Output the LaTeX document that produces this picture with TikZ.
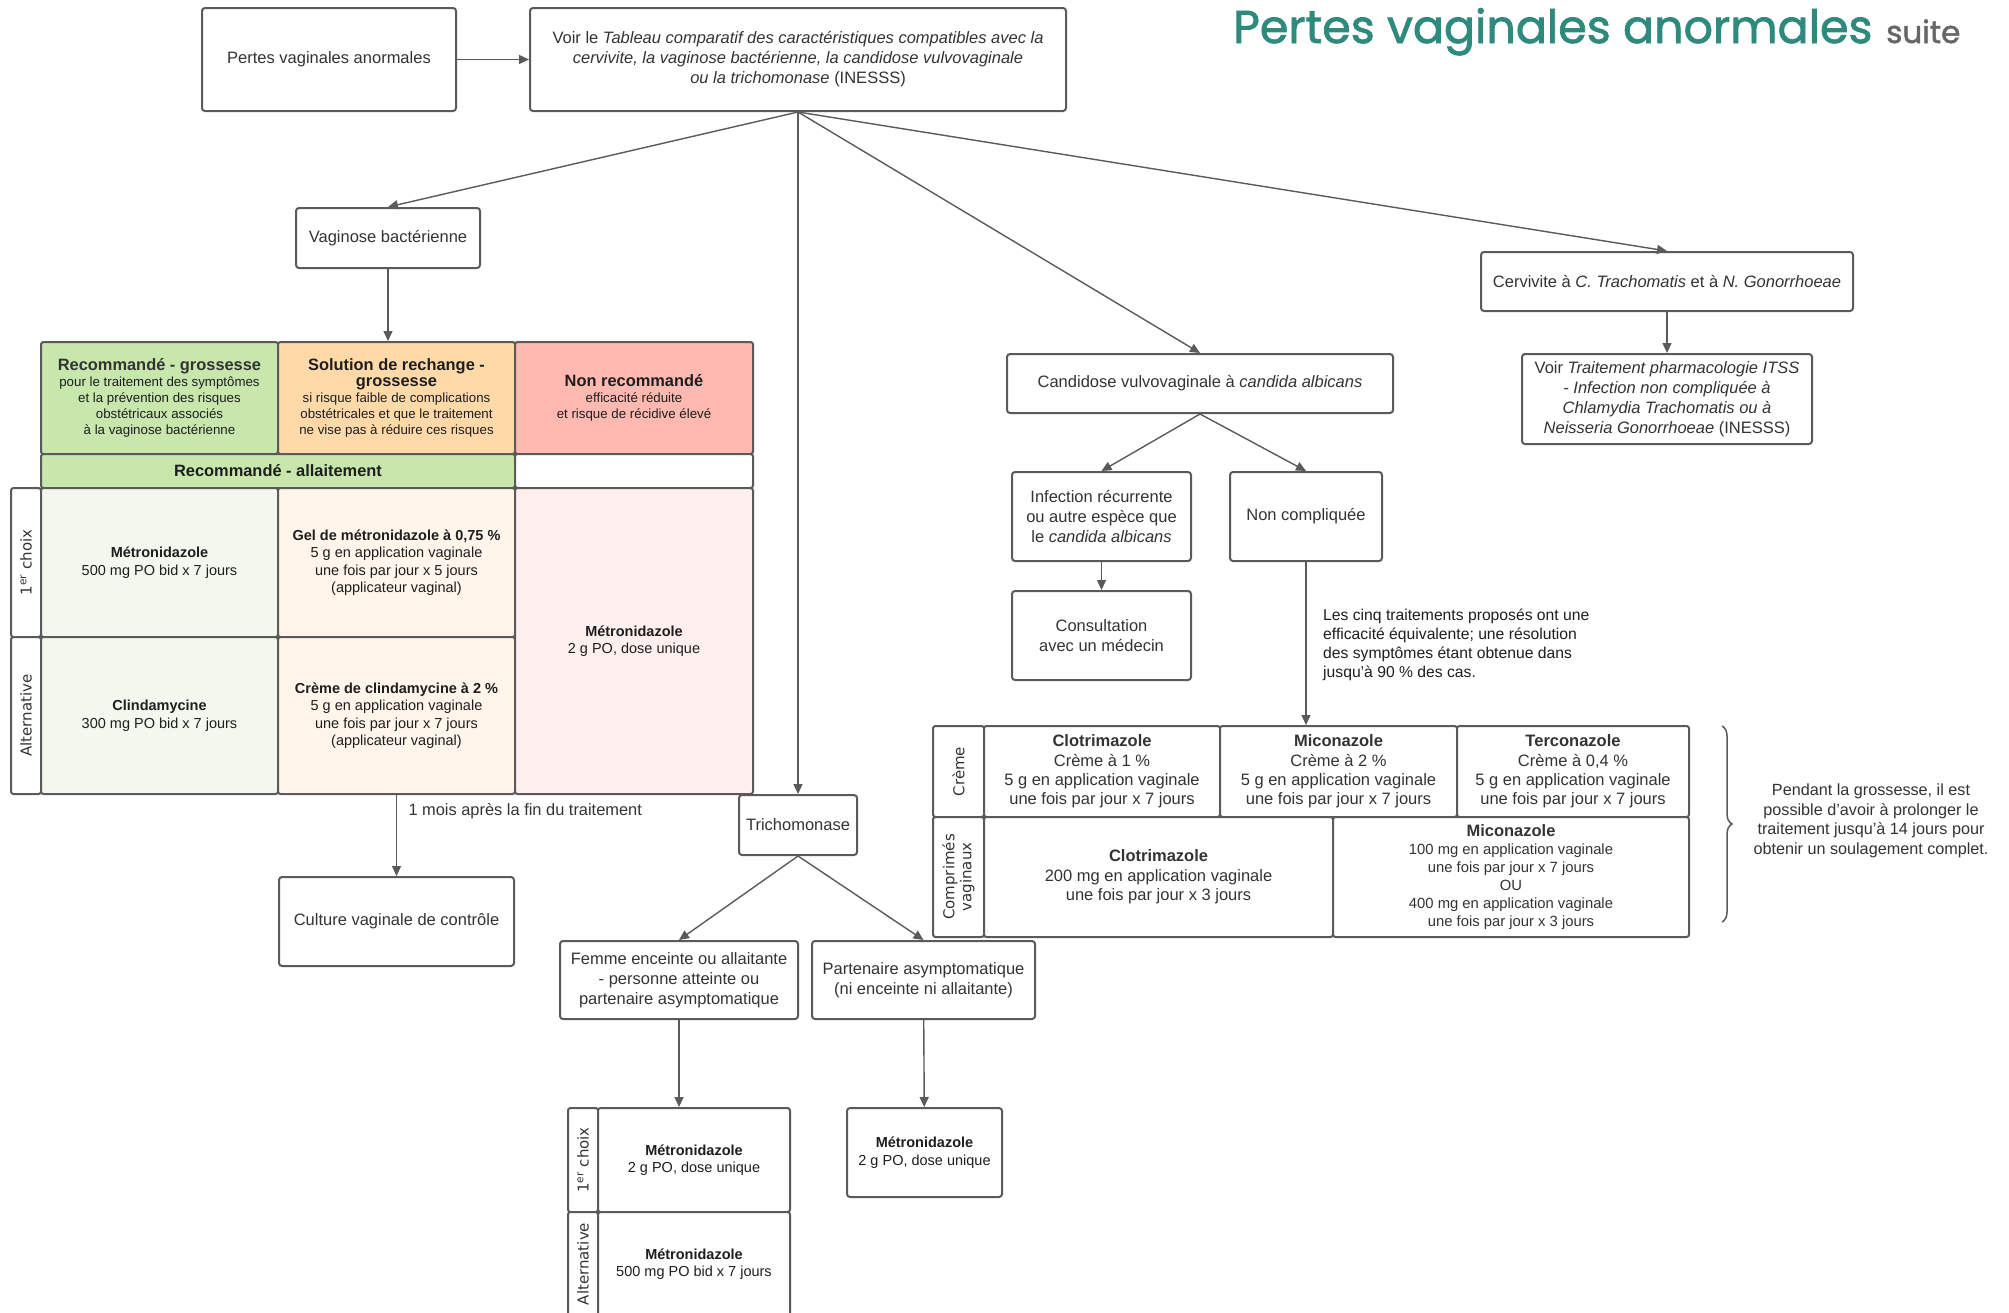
\documentclass[tikz,border=0pt]{standalone}
\usepackage{fontspec}
\setmainfont{Liberation Sans}
\newfontfamily\labfont{DejaVu Sans}
\newfontfamily\titlefont{Poppins}[FakeBold=1.6]
\usetikzlibrary{arrows.meta,decorations.pathreplacing}
\definecolor{lc}{HTML}{5A5A5A}
\definecolor{tc}{HTML}{333333}
\definecolor{dk}{HTML}{1E1E1E}
\definecolor{hg}{HTML}{C7E7AC}
\definecolor{ho}{HTML}{FFD9A8}
\definecolor{hp}{HTML}{FFB9B0}
\definecolor{bg}{HTML}{F3F8EE}
\definecolor{bo}{HTML}{FFF5EA}
\definecolor{bp}{HTML}{FFEFEE}
\definecolor{teal}{HTML}{2F8A7E}
\definecolor{sgray}{HTML}{666666}
\newcommand\fsz[2]{\fontsize{#1pt}{#2pt}\selectfont}
\newcommand\cellnode[7]{%
  \pgfmathsetmacro\cnx{(#2+#4)/2}\pgfmathsetmacro\cny{(#3+#5)/2}%
  \pgfmathsetmacro\cnw{#4-#2}\pgfmathsetmacro\cnh{#5-#3}%
  \node[#6, minimum width=\cnw pt, minimum height=\cnh pt] (#1) at (\cnx,\cny) {#7};}
\begin{document}
\begin{tikzpicture}[x=1pt,y=-1pt,
  box/.style={draw=lc, line width=2pt, rounded corners=3pt, fill=white, align=center, text=tc, font=\fsz{16.5}{20}, inner sep=3pt},
  cell/.style={draw=lc, line width=2pt, rounded corners=2.5pt, fill=white, align=center, text=dk, inner sep=2pt},
  arr/.style={draw=lc, line width=1.4pt, -{Triangle[length=10pt,width=9pt]}},
  lab/.style={rotate=90, font=\labfont\fsz{15}{17}, text=tc, align=center, inner sep=0pt},
  small/.style={font=\fsz{14.5}{17.5}},
  hdr/.style={font=\fsz{13.3}{16}}]
\useasboundingbox (0,0) rectangle (2009,1312);
\clip (0,0) rectangle (2009,1312);
\fill[white] (0,0) rectangle (2009,1312);

% title
\node[anchor=base west, font=\titlefont\fsz{46}{50}, text=teal, inner sep=0pt] (title) at (1233,43) {Pertes vaginales anormales};
\node[anchor=base west, font=\titlefont\fsz{31}{34}, text=sgray, inner sep=0pt] (suite) at (1886,43) {suite};

% main boxes
\node[box, minimum width=254pt, minimum height=103pt] (pva) at (329,59.5) {Pertes vaginales anormales};
\node[box, minimum width=536pt, minimum height=103pt] (voir) at (798,59.5) {Voir le \textit{Tableau comparatif des caractéristiques compatibles avec la}\\ \textit{cervivite, la vaginose bactérienne, la candidose vulvovaginale}\\ \textit{ou la trichomonase} (INESSS)};
\node[box, minimum width=184pt, minimum height=60pt] (vb) at (388,238) {Vaginose bactérienne};
\node[box, minimum width=118pt, minimum height=60pt] (tri) at (798,825) {Trichomonase};
\node[box, minimum width=386pt, minimum height=59pt] (cvv) at (1200,383.5) {Candidose vulvovaginale à \textit{candida albicans}};
\node[box, minimum width=372pt, minimum height=59pt] (cerv) at (1667,281.5) {Cervivite à \textit{C. Trachomatis} et à \textit{N. Gonorrhoeae}};
\node[box, minimum width=290pt, minimum height=90pt] (itss) at (1667,399) {Voir \textit{Traitement pharmacologie ITSS}\\ \textit{- Infection non compliquée à}\\ \textit{Chlamydia Trachomatis ou à}\\ \textit{Neisseria Gonorrhoeae} (INESSS)};
\node[box, minimum width=179pt, minimum height=89pt] (rec) at (1101.5,516.5) {Infection récurrente\\ ou autre espèce que\\ le \textit{candida albicans}};
\node[box, minimum width=152pt, minimum height=89pt] (nc) at (1306,516.5) {Non compliquée};
\node[box, minimum width=179pt, minimum height=89pt] (cons) at (1101.5,635.5) {Consultation\\ avec un médecin};
\node[box, minimum width=235pt, minimum height=89pt] (cult) at (396.5,921.5) {Culture vaginale de contrôle};
\node[box, minimum width=238pt, minimum height=78pt] (fem) at (679,980) {Femme enceinte ou allaitante\\ - personne atteinte ou\\ partenaire asymptomatique};
\node[box, minimum width=223pt, minimum height=78pt] (part) at (923.5,980) {Partenaire asymptomatique\\ (ni enceinte ni allaitante)};
\node[box, minimum width=155pt, minimum height=89pt, small, text=dk] (pmet) at (924.5,1152.5) {\textbf{Métronidazole}\\ 2 g PO, dose unique};

% vaginose table
\cellnode{h1}{41}{342}{278}{454}{cell, fill=hg, hdr}{{\fsz{16.4}{19}\bfseries\color{tc}Recommandé - grossesse}\\ pour le traitement des symptômes\\ et la prévention des risques\\ obstétricaux associés\\ à la vaginose bactérienne}
\cellnode{h2}{278}{342}{515}{454}{cell, fill=ho, hdr}{{\fsz{16.4}{18.5}\bfseries Solution de rechange -}\\ {\fsz{16.4}{18.5}\bfseries grossesse}\\ si risque faible de complications\\ obstétricales et que le traitement\\ ne vise pas à réduire ces risques}
\cellnode{h3}{515}{342}{753}{454}{cell, fill=hp, hdr}{{\fsz{16.4}{19}\bfseries Non recommandé}\\ efficacité réduite\\ et risque de récidive élevé}
\cellnode{alla}{41}{454}{515}{488}{cell, fill=hg, font=\fsz{16.4}{19}\bfseries}{Recommandé - allaitement}
\cellnode{blank}{515}{454}{753}{488}{cell}{}
\cellnode{l1}{11}{488}{41}{637}{cell}{}
\cellnode{l2}{11}{637}{41}{794}{cell}{}
\cellnode{g1}{41}{488}{278}{637}{cell, fill=bg, small}{\textbf{Métronidazole}\\ 500 mg PO bid x 7 jours}
\cellnode{g2}{278}{488}{515}{637}{cell, fill=bo, small}{\textbf{Gel de métronidazole à 0,75 \%}\\ 5 g en application vaginale\\ une fois par jour x 5 jours\\ (applicateur vaginal)}
\cellnode{g3}{41}{637}{278}{794}{cell, fill=bg, small}{\textbf{Clindamycine}\\ 300 mg PO bid x 7 jours}
\cellnode{g4}{278}{637}{515}{794}{cell, fill=bo, small}{\textbf{Crème de clindamycine à 2 \%}\\ 5 g en application vaginale\\ une fois par jour x 7 jours\\ (applicateur vaginal)}
\cellnode{g5}{515}{488}{753}{794}{cell, fill=bp, small}{\textbf{Métronidazole}\\ 2 g PO, dose unique}
\node[lab] (t1) at (l1) {1\textsuperscript{er} choix};
\node[lab] (t2) at (l2) {Alternative};

% candidose table
\cellnode{cl1}{933}{726}{984}{817}{cell}{}
\cellnode{cl2}{933}{817}{984}{937}{cell}{}
\cellnode{c1}{984}{726}{1220}{817}{cell, text=tc, font=\fsz{16.5}{19.3}}{\textbf{Clotrimazole}\\ Crème à 1 \%\\ 5 g en application vaginale\\ une fois par jour x 7 jours}
\cellnode{c2}{1220}{726}{1457}{817}{cell, text=tc, font=\fsz{16.5}{19.3}}{\textbf{Miconazole}\\ Crème à 2 \%\\ 5 g en application vaginale\\ une fois par jour x 7 jours}
\cellnode{c3}{1457}{726}{1689}{817}{cell, text=tc, font=\fsz{16.5}{19.3}}{\textbf{Terconazole}\\ Crème à 0,4 \%\\ 5 g en application vaginale\\ une fois par jour x 7 jours}
\cellnode{c4}{984}{817}{1333}{937}{cell, text=tc, font=\fsz{16.5}{19.5}}{\textbf{Clotrimazole}\\ 200 mg en application vaginale\\ une fois par jour x 3 jours}
\cellnode{c5}{1333}{817}{1689}{937}{cell, text=tc, font=\fsz{14.8}{18}}{{\fsz{16.5}{18}\bfseries Miconazole}\\ 100 mg en application vaginale\\ une fois par jour x 7 jours\\ OU\\ 400 mg en application vaginale\\ une fois par jour x 3 jours}
\node[lab] (t3) at (cl1) {Crème};
\node[lab] (t4) at (cl2) {Comprimés\\ vaginaux};

% femme table
\cellnode{fl1}{568}{1108}{598}{1212}{cell}{}
\cellnode{fl2}{568}{1212}{598}{1316}{cell}{}
\cellnode{f1}{598}{1108}{790}{1212}{cell, small}{\textbf{Métronidazole}\\ 2 g PO, dose unique}
\cellnode{f2}{598}{1212}{790}{1316}{cell, small}{\textbf{Métronidazole}\\ 500 mg PO bid x 7 jours}
\node[lab] (t5) at (fl1) {1\textsuperscript{er} choix};
\node[lab] (t6) at (fl2) {Alternative};

% free texts
\node[anchor=west, align=left, font=\fsz{15.7}{19}, text=dk, inner sep=0pt] (cinq) at (1323,645) {Les cinq traitements proposés ont une\\ efficacité équivalente; une résolution\\ des symptômes étant obtenue dans\\ jusqu'à 90 \% des cas.};
\node[align=center, font=\fsz{16.2}{19.5}, text=tc, inner sep=0pt] (preg) at (1871,821) {Pendant la grossesse, il est\\ possible d'avoir à prolonger le\\ traitement jusqu'à 14 jours pour\\ obtenir un soulagement complet.};
\coordinate (bt) at (1722,726);
\coordinate (bb) at (1722,922);
\draw[lc, line width=1.5pt, decorate, decoration={brace, amplitude=10pt}] (bt) -- (bb);

% connectors
\draw[arr] (pva) -- (voir);
\draw[arr] (voir.south) -- (vb.north);
\draw[arr] (voir.south) -- (tri.north);
\draw[arr] (voir.south) -- (cvv.north);
\draw[arr] (voir.south) -- (cerv.north);
\draw[arr] (cerv) -- (itss);
\draw[arr] (vb.south) -- (vb.south |- h2.north);
\draw[arr] (g4.south) -- (cult.north) node[pos=0.2, anchor=west, xshift=8pt, font=\fsz{16.4}{19}, text=tc] (mois) {1 mois après la fin du traitement};
\draw[arr] (cvv.south) -- (rec.north);
\draw[arr] (cvv.south) -- (nc.north);
\draw[arr] (rec) -- (cons);
\draw[arr] (nc.south) -- (nc.south |- c2.north);
\draw[arr] (tri.south) -- (fem.north);
\draw[arr] (tri.south) -- (part.north);
\draw[arr] (fem.south) -- (fem.south |- f1.north);
\draw[arr] (part) -- (pmet);
\end{tikzpicture}
\end{document}
